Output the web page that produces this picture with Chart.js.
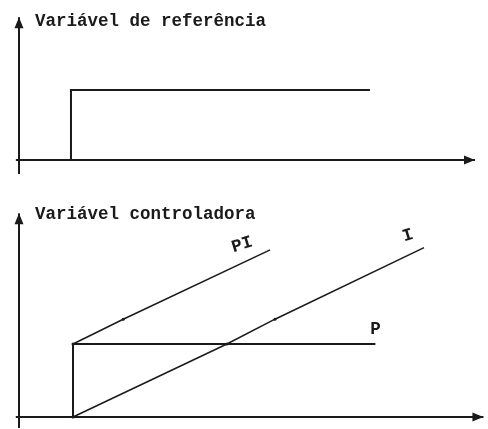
<!DOCTYPE html>
<html>
<head>
<meta charset="utf-8">
<script src="https://cdn.jsdelivr.net/npm/chart.js@4.4.1/dist/chart.umd.min.js"></script>
<style>
    body { margin: 0; background: #fff; }
    canvas { position: absolute; left: 0; }
    #topChart { top: 0; }
    #bottomChart { top: 200px; }
</style>
</head>
<body>
<canvas id="topChart" width="488" height="200"></canvas>
<canvas id="bottomChart" width="488" height="229"></canvas>
<script>
// Titulos
var topTitle = "Variável de referência";
var bottomTitle = "Variável controladora";

// Variavel de referencia (degrau em t = 1)
var refTime = [1, 1, 6.75];
var refValue = [0, 1, 1];

// Variavel controladora
var pTime = [1, 1, 6.6];
var pValue = [0, 1, 1];
var piTime = [1, 1.93, 4.65];
var piValue = [1, 1.34, 2.29];
var iTime = [1, 3.85, 4.74, 7.5];
var iValue = [0, 1, 1.34, 2.32];

// Eixos (inicio, fim)
var topAxisX = [-0.06, 8.77];
var topAxisY = [-0.2, 2.04];
var bottomAxisX = [-0.06, 8.6];
var bottomAxisY = [-0.15, 2.79];

var ink = "#1a1a1a";
var font = "bold 17.5px 'Liberation Mono', 'DejaVu Sans Mono', monospace";

let toPoints = (xs, ys) => xs.map((x, i) => ({ x: x, y: ys[i] }));

// desenha uma seta no fim das series marcadas com arrow: true
var arrowPlugin = {
    id: "arrows",
    afterDatasetsDraw: function(chart) {
        var ctx = chart.ctx;
        chart.data.datasets.forEach(function(ds, i) {
            if (!ds.arrow) return;
            var pts = chart.getDatasetMeta(i).data;
            var a = pts[pts.length - 2], b = pts[pts.length - 1];
            var ang = Math.atan2(b.y - a.y, b.x - a.x);
            ctx.save();
            ctx.translate(b.x, b.y);
            ctx.rotate(ang);
            ctx.fillStyle = ink;
            ctx.beginPath();
            ctx.moveTo(0, 0);
            ctx.lineTo(-11, -4.5);
            ctx.lineTo(-11, 4.5);
            ctx.closePath();
            ctx.fill();
            ctx.restore();
        });
    }
};

// textos: titulo junto ao eixo y e rotulos no fim das linhas
var textPlugin = {
    id: "texts",
    afterDraw: function(chart) {
        var ctx = chart.ctx;
        var opts = chart.options.plugins.texts;
        ctx.save();
        ctx.fillStyle = ink;
        ctx.font = font;
        ctx.textBaseline = "alphabetic";
        var xs = chart.scales.x;
        ctx.fillText(opts.title, xs.getPixelForValue(0) + 16, opts.titleY);
        (opts.labels || []).forEach(function(lb) {
            var pts = chart.getDatasetMeta(lb.dataset).data;
            var end = pts[pts.length - 1];
            ctx.save();
            ctx.translate(end.x + lb.dx, end.y + lb.dy);
            ctx.rotate(lb.rot || 0);
            ctx.textAlign = "center";
            ctx.textBaseline = "middle";
            ctx.fillText(lb.text, 0, 0);
            ctx.restore();
        });
        ctx.restore();
    }
};

let lineSet = (data, width, extra) => Object.assign({
    data: data,
    borderColor: ink,
    borderWidth: width,
    pointRadius: 0,
    tension: 0,
    fill: false
}, extra || {});

let makeChart = (canvasId, datasets, xRange, yRange, texts) => {
    var ctx = document.getElementById(canvasId).getContext("2d");
    return new Chart(ctx, {
        type: "line",
        data: { datasets: datasets },
        options: {
            responsive: false,
            animation: false,
            layout: { padding: 0, autoPadding: false },
            scales: {
                x: { type: "linear", display: false, min: xRange[0], max: xRange[1] },
                y: { type: "linear", display: false, min: yRange[0], max: yRange[1] }
            },
            plugins: {
                legend: { display: false },
                tooltip: { enabled: false },
                texts: texts
            }
        },
        plugins: [arrowPlugin, textPlugin]
    });
};

makeChart("topChart", [
    lineSet(toPoints(topAxisX, [0, 0]), 2, { arrow: true }),
    lineSet(toPoints([0, 0], topAxisY), 2, { arrow: true }),
    lineSet(toPoints(refTime, refValue), 2)
], [-0.365, 9.02], [-0.571, 2.286], { title: topTitle, titleY: 26 });

makeChart("bottomChart", [
    lineSet(toPoints(bottomAxisX, [0, 0]), 2, { arrow: true }),
    lineSet(toPoints([0, 0], bottomAxisY), 2, { arrow: true }),
    lineSet(toPoints(pTime, pValue), 2),
    lineSet(toPoints(piTime, piValue), 1.5, { pointRadius: [1.5, 1.5, 0], pointBackgroundColor: ink, pointBorderWidth: 0 }),
    lineSet(toPoints(iTime, iValue), 1.5, { pointRadius: [1.5, 1.5, 1.5, 0], pointBackgroundColor: ink, pointBorderWidth: 0 })
], [-0.352, 8.685], [-0.164, 2.973], {
    title: bottomTitle,
    titleY: 19,
    labels: [
        { dataset: 3, text: "PI", dx: -28, dy: -5, rot: -0.3 },
        { dataset: 4, text: "I", dx: -16, dy: -12, rot: -0.3 },
        { dataset: 2, text: "P", dx: 0, dy: -14 }
    ]
});
</script>
</body>
</html>
